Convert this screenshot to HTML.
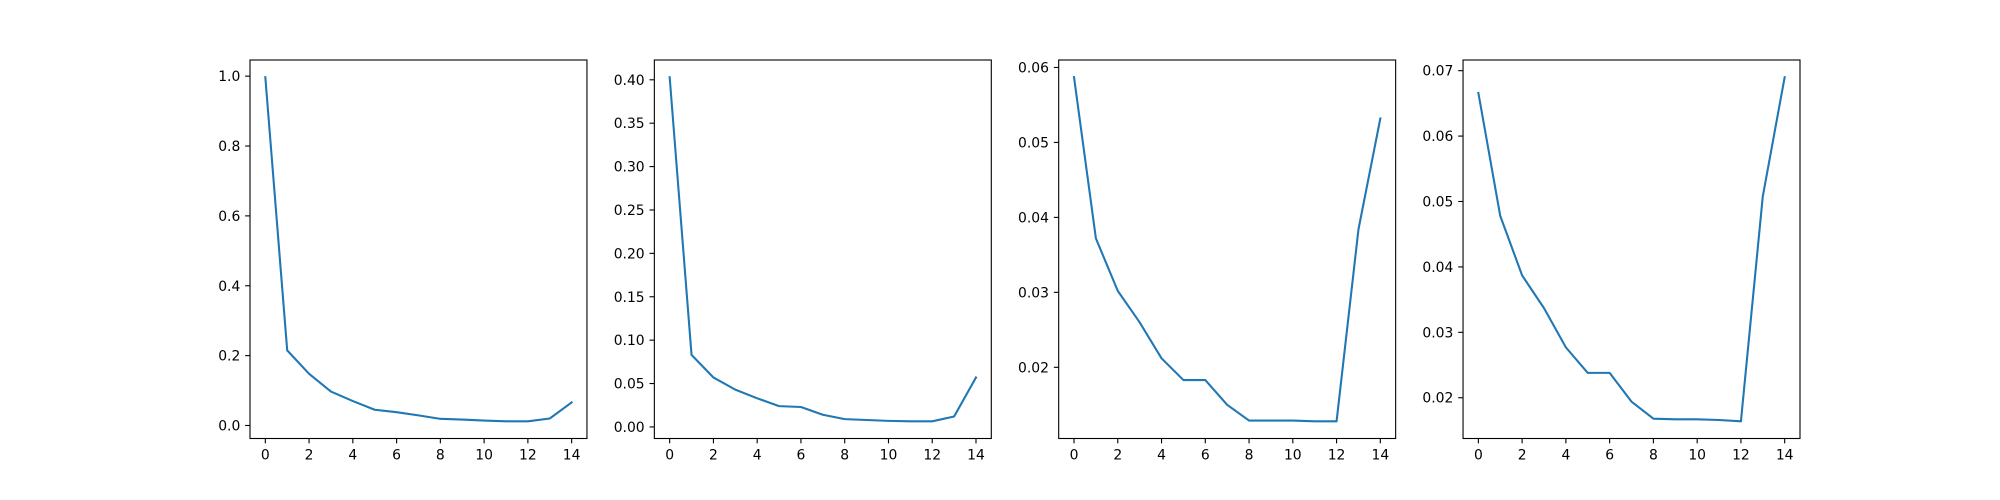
<!DOCTYPE html>
<html><head><meta charset="utf-8"><style>
html,body{margin:0;padding:0;background:#fff}
svg{display:block}
text{font-family:"DejaVu Sans","Liberation Sans",sans-serif;font-size:13.9px;fill:#000}
</style></head><body>
<svg id="fig" width="2000" height="500" viewBox="0 0 2000 500" xmlns="http://www.w3.org/2000/svg"></svg>
<script>
const xCategories = [0,1,2,3,4,5,6,7,8,9,10,11,12,13,14];
const series1 = [0.997,0.215,0.148,0.097,0.070,0.045,0.038,0.029,0.019,0.017,0.014,0.012,0.012,0.020,0.066];
const series2 = [0.403,0.083,0.057,0.043,0.033,0.024,0.023,0.014,0.009,0.008,0.007,0.0065,0.0065,0.012,0.057];
const series3 = [0.0587,0.0372,0.0302,0.0260,0.0212,0.0183,0.0183,0.0150,0.0129,0.0129,0.0129,0.0128,0.0128,0.0384,0.0532];
const series4 = [0.0666,0.0478,0.0387,0.0337,0.0277,0.0238,0.0238,0.0194,0.0168,0.0167,0.0167,0.0166,0.0164,0.0508,0.0690];
const xTicks = [0,2,4,6,8,10,12,14];
const yTicks1 = [0.0,0.2,0.4,0.6,0.8,1.0];
const yTickLabels1 = ["0.0","0.2","0.4","0.6","0.8","1.0"];
const yTicks2 = [0,0.05,0.10,0.15,0.20,0.25,0.30,0.35,0.40];
const yTickLabels2 = ["0.00","0.05","0.10","0.15","0.20","0.25","0.30","0.35","0.40"];
const yTicks3 = [0.02,0.03,0.04,0.05,0.06];
const yTickLabels3 = ["0.02","0.03","0.04","0.05","0.06"];
const yTicks4 = [0.02,0.03,0.04,0.05,0.06,0.07];
const yTickLabels4 = ["0.02","0.03","0.04","0.05","0.06","0.07"];

const NS="http://www.w3.org/2000/svg";
const svg=document.getElementById('fig');
function mk(tag,attrs,parent){const e=document.createElementNS(NS,tag);for(const k in attrs)e.setAttribute(k,attrs[k]);(parent||svg).appendChild(e);return e;}

const panels=[[series1,yTicks1,yTickLabels1],[series2,yTicks2,yTickLabels2],[series3,yTicks3,yTickLabels3],[series4,yTicks4,yTickLabels4]];
const W=1550/4.6, GAP=W*0.2, TOP=60, BOT=438.5;
panels.forEach((p,i)=>{
  const [vals,yt,ytl]=p;
  const x0=250+i*(W+GAP), x1=x0+W;
  const g=mk('g',{});
  
  
  const xmin=Math.min(...xCategories), xmax=Math.max(...xCategories), xr=xmax-xmin;
  const xs=v=>x0+(v-(xmin-0.05*xr))/(1.1*xr)*W;
  const ymn=Math.min(...vals), ymx=Math.max(...vals), yr=ymx-ymn;
  const lo=ymn-0.05*yr, hi=ymx+0.05*yr;
  const ys=v=>BOT-(v-lo)/(hi-lo)*(BOT-TOP);
  const d=vals.map((v,j)=>(j?'L':'M')+xs(xCategories[j]).toFixed(2)+','+ys(v).toFixed(2)).join(' ');
  const line=mk('path',{d:d,fill:'none',stroke:'#1f77b4','stroke-width':2.08,'stroke-linejoin':'round','stroke-linecap':'square'},g);
  
  
  const fr=mk('rect',{x:x0,y:TOP,width:W,height:BOT-TOP,fill:'none',stroke:'#000','stroke-width':1.1},g);
  
  
  xTicks.forEach(t=>{
    const x=xs(t);
    mk('line',{x1:x,y1:BOT,x2:x,y2:BOT+4.86,stroke:'#000','stroke-width':1.1},g);
    const tx=mk('text',{x:x,y:BOT+21,'text-anchor':'middle'},g);
    tx.textContent=String(t);
    
    
  });
  yt.forEach((t,k)=>{
    const y=ys(t);
    mk('line',{x1:x0,y1:y,x2:x0-4.86,y2:y,stroke:'#000','stroke-width':1.1},g);
    const tx=mk('text',{x:x0-9.7,y:y+5,'text-anchor':'end'},g);
    tx.textContent=ytl[k];
    
    
  });
});
</script>
</body></html>
